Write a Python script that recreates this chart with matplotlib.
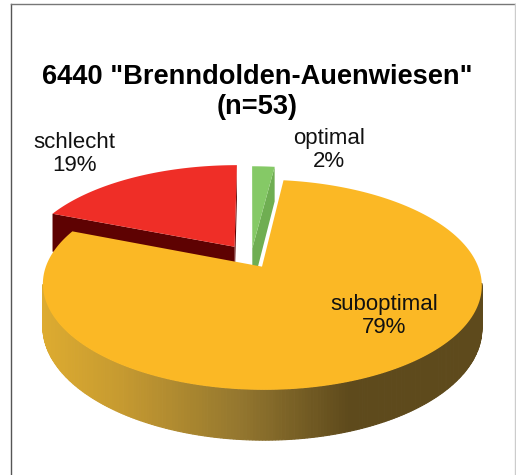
"""
Perspective 3D pie chart of the habitat condition shares.
"""

import numpy as np
import matplotlib
matplotlib.use("Agg")
import matplotlib.pyplot as plt
from matplotlib.colors import LinearSegmentedColormap

plt.rcParams['font.family'] = ['Liberation Sans', 'DejaVu Sans']

title_lines = '6440 "Brenndolden-Auenwiesen"\n(n=53)'
categories = ['optimal', 'suboptimal', 'schlecht']
shares = [2, 79, 19]
top_colors = ['#85C966', '#FBB825', '#EF2E27']
side_colors = ['#6FAE52', '#5E4A1C', '#5E0202']
explode = [0.10, 0.10, 0.14]

# projection of the unit disc into image pixels
CX, CY = 251.0, 258.0
A, B = 213.0, 99.0
K = 0.17
DEPTH = 41.0


def project(x, y, drop=False):
    w = 1 + K * y
    sx = CX + A * x / w
    sy = CY - B * y / w
    if drop:
        sy = sy + DEPTH / w
    return sx, sy


def wedge_outline(start, end, off):
    # angles in radians, clockwise from the top of the pie
    t = np.linspace(start, end, 200)
    return np.sin(t) + off[0], np.cos(t) + off[1]


fig = plt.figure(figsize=(5.16, 4.75), dpi=100)
ax = fig.add_axes([0, 0, 1, 1])
ax.set_xlim(0, 516)
ax.set_ylim(475, 0)
ax.axis('off')

# chart frame
ax.plot([10.5, 10.5], [475, 4], color='#555555', lw=1.0)
ax.plot([10.5, 516], [4, 4], color='#777777', lw=1.0)
ax.plot([515, 515], [4, 475], color='#cccccc', lw=1.0)

edges = 2 * np.pi * np.cumsum([0] + shares) / sum(shares)
wedges = []
for i in range(len(shares)):
    mid = (edges[i] + edges[i + 1]) / 2
    off = (explode[i] * np.sin(mid), explode[i] * np.cos(mid))
    wedges.append((edges[i], edges[i + 1], off))

# back wedges first: side faces, then the top
for i in [2, 0]:
    start, end, off = wedges[i]
    for angle in (start, end):
        ox, oy = np.sin(angle) + off[0], np.cos(angle) + off[1]
        x0, y0 = project(off[0], off[1])
        x1, y1 = project(ox, oy)
        x2, y2 = project(ox, oy, drop=True)
        x3, y3 = project(off[0], off[1], drop=True)
        ax.fill([x0, x1, x2, x3], [y0, y1, y2, y3], color=side_colors[i], lw=0)
    xs, ys = wedge_outline(start, end, off)
    px, py = project(np.r_[off[0], xs], np.r_[off[1], ys])
    ax.fill(px, py, color=top_colors[i], lw=0)

# front rim of the big wedge with its shading
rim_cmap = LinearSegmentedColormap.from_list(
    'rim', [(0, '#DDAB30'), (0.18, '#C69A30'), (0.45, '#94772F'),
            (0.70, '#5E4A1C'), (1, '#5E4A1C')])
start, end, off = wedges[1]
t = np.linspace(start, end, 400)
rx, ry = np.sin(t) + off[0], np.cos(t) + off[1]
tx, ty = project(rx, ry)
bx, by = project(rx, ry, drop=True)
lo, hi = tx.min(), tx.max()
for j in range(len(t) - 1):
    # the back part of the rim is hidden behind the top face
    if ry[j] > off[1] - K and ry[j + 1] > off[1] - K:
        continue
    c = rim_cmap((tx[j] - lo) / (hi - lo))
    ax.fill([tx[j], tx[j + 1], bx[j + 1], bx[j]],
            [ty[j], ty[j + 1], by[j + 1], by[j]],
            facecolor=c, edgecolor=c, lw=0.8)

xs, ys = wedge_outline(start, end, off)
px, py = project(np.r_[off[0], xs], np.r_[off[1], ys])
ax.fill(px, py, color=top_colors[1], lw=0)

# labels
ax.text(257.5, 92, title_lines, ha='center', va='center', fontsize=19.6,
        fontweight='bold', color='black', linespacing=1.17)
label_pos = [(329, 150), (384, 316), (74, 154)]
for name, share, (lx, ly) in zip(categories, shares, label_pos):
    ax.text(lx, ly, f'{name}\n{share}%', ha='center', va='center',
            fontsize=16, color='#111111', linespacing=1.15)

plt.savefig('out.png', dpi=100)
plt.close()
